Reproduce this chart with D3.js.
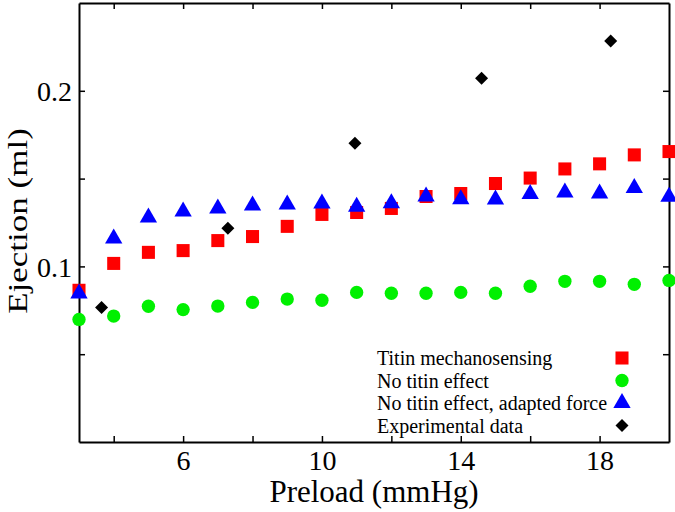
<!DOCTYPE html>
<html><head><meta charset="utf-8">
<script src="https://cdn.jsdelivr.net/npm/d3@7"></script>
<style>body{margin:0;background:#fff}svg{display:block}text{font-family:"Liberation Serif","Times New Roman",serif}</style>
</head><body>
<svg id="c" width="675" height="512"></svg>
<script>
const preload = [3,4,5,6,7,8,9,10,11,12,13,14,15,16,17,18,19,20];
const titinMechano = [0.0864,0.1017,0.108,0.109,0.1147,0.117,0.1228,0.1296,0.1307,0.133,0.1398,0.1415,0.1472,0.1503,0.1555,0.1584,0.1635,0.1654];
const noTitin = [0.0698,0.0717,0.0773,0.0754,0.0774,0.0795,0.0814,0.0807,0.0852,0.0847,0.0847,0.0852,0.0847,0.0887,0.0915,0.0915,0.0898,0.092];
const noTitinAdapted = [0.0845,0.1159,0.1278,0.1312,0.133,0.1347,0.1352,0.1358,0.134,0.136,0.1398,0.1383,0.1381,0.1412,0.1421,0.1415,0.1446,0.1396];
const expPreload = [3.65,7.29,10.95,14.6,18.32];
const expEjection = [0.0766,0.1217,0.1701,0.2071,0.2283];
const xTicks = [4,6,8,10,12,14,16,18];
const xLabels = [6,10,14,18];
const yTicks = [0.05,0.1,0.15,0.2];
const yLabels = [0.1,0.2];
const legendLabels = ["Titin mechanosensing","No titin effect","No titin effect, adapted force","Experimental data"];

const L=79,R=669,T=3,B=442;
const svg=d3.select("#c");
const x=d3.scaleLinear().domain([3,20]).range([L,R]);
const y=d3.scaleLinear().domain([0,0.25]).range([B,T]);

const fmt=v=>xLabels.includes(v)?String(v):"";
const fmtY=v=>yLabels.some(l=>Math.abs(l-v)<1e-9)?String(v):"";
const gB=svg.append("g").attr("transform",`translate(0,${B})`).call(d3.axisBottom(x).tickValues(xTicks).tickSize(-6).tickSizeOuter(0).tickPadding(8).tickFormat(fmt));
const gT=svg.append("g").attr("transform",`translate(0,${T})`).call(d3.axisTop(x).tickValues(xTicks).tickSize(-6).tickSizeOuter(0).tickFormat(""));
const gL=svg.append("g").attr("transform",`translate(${L},0)`).call(d3.axisLeft(y).tickValues(yTicks).tickSize(-6).tickSizeOuter(0).tickPadding(7).tickFormat(fmtY));
const gR=svg.append("g").attr("transform",`translate(${R},0)`).call(d3.axisRight(y).tickValues(yTicks).tickSize(-6).tickSizeOuter(0).tickFormat(""));
[gB,gT,gL,gR].forEach(g=>{g.select(".domain").attr("stroke","#000").attr("stroke-width",2);g.selectAll(".tick line").attr("stroke","#000").attr("stroke-width",1.5);g.selectAll("text").attr("font-size",28).attr("fill","#000");});
gL.selectAll("text").attr("dy","0.35em");

const sq=d3.symbol().type(d3.symbolSquare).size(170);
const ci=d3.symbol().type(d3.symbolCircle).size(140);
const tr=d3.symbol().type(d3.symbolTriangle).size(130);
const di="M0,-6.5L6.5,0L0,6.5L-6.5,0Z";
const plot=svg.append("g");
plot.selectAll(".g").data(preload).join("path").attr("d",ci).attr("fill","#00f000").attr("transform",(d,i)=>`translate(${x(d)},${y(noTitin[i])})`);
plot.selectAll(".s").data(preload).join("path").attr("d",sq).attr("fill","#ff0000").attr("transform",(d,i)=>`translate(${x(d)},${y(titinMechano[i])})`);
plot.selectAll(".t").data(preload).join("path").attr("d",tr).attr("fill","#0000ff").attr("transform",(d,i)=>`translate(${x(d)},${y(noTitinAdapted[i])})`);
plot.selectAll(".d").data(expPreload).join("path").attr("d",di).attr("fill","#000").attr("transform",(d,i)=>`translate(${x(d)},${y(expEjection[i])})`);

const syms=[[sq,"#ff0000"],[ci,"#00f000"],[tr,"#0000ff"],[di,"#000"]];
const lg=svg.append("g");
legendLabels.forEach((t,i)=>{
  const cy=358+i*22.5;
  lg.append("text").attr("x",377).attr("y",cy).attr("dy","0.35em").attr("font-size",20).text(t);
  lg.append("path").attr("d",syms[i][0]).attr("fill",syms[i][1]).attr("transform",`translate(622,${cy})`);
});

svg.append("text").attr("x",374).attr("y",502).attr("text-anchor","middle").attr("font-size",31).text("Preload (mmHg)");
svg.append("text").attr("transform","translate(27,221) rotate(-90) scale(1.25,1)").attr("text-anchor","middle").attr("font-size",28).text("Ejection (ml)");
</script>
</body></html>
